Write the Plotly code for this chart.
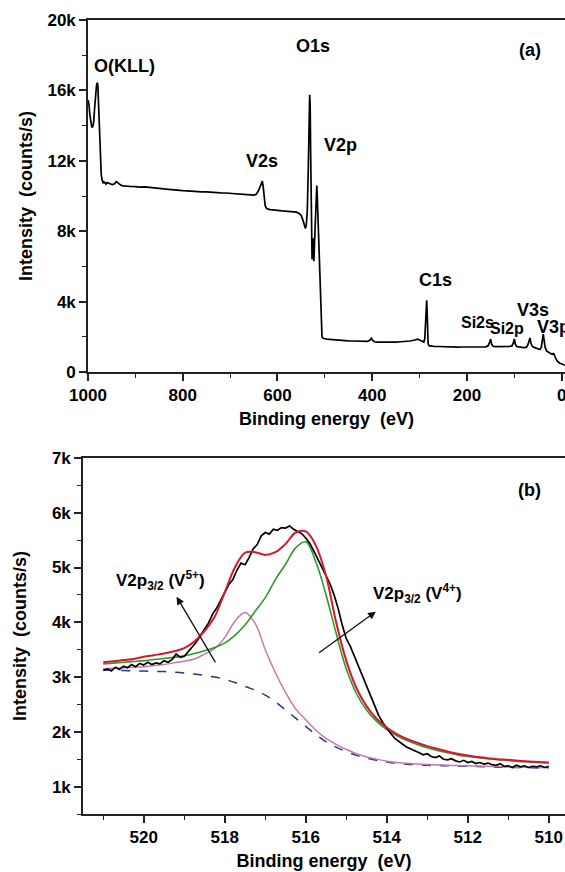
import plotly.graph_objects as go

# ---------------- Panel (a): survey spectrum ----------------
survey_be = [1000, 998, 996, 994, 992, 990, 988, 986, 984, 982, 980, 979, 978, 976, 974, 972, 970, 968, 966, 964,
             962, 960, 956, 952, 948, 944, 940, 937, 934, 930, 925, 920, 910, 900, 890, 880, 870, 860, 850, 840,
             830, 820, 810, 800, 790, 780, 770, 760, 750, 740, 730, 720, 710, 700, 690, 680, 670, 660, 650, 645,
             641, 637, 634, 632, 630, 628, 626, 623, 620, 615, 610, 600, 590, 580, 570, 560, 555, 550, 546, 543,
             541, 539, 537, 535, 533, 532, 531, 530, 529, 528, 527, 526, 525, 524, 523, 522, 520, 518, 517, 516,
             514, 512, 510, 508, 506, 504, 500, 495, 490, 480, 470, 460, 450, 440, 430, 420, 410, 405, 402, 399,
             395, 390, 380, 370, 360, 350, 340, 330, 320, 310, 305, 300, 295, 291, 289, 287, 286, 285, 284, 283,
             282, 280, 275, 270, 260, 250, 240, 230, 220, 210, 200, 190, 180, 170, 160, 155, 152, 150, 148, 145,
             140, 130, 120, 110, 105, 102, 100, 98, 95, 90, 85, 80, 75, 72, 69, 67, 65, 62, 58, 54,
             50, 46, 43, 41, 39, 37, 35, 32, 29, 26, 23, 20, 18, 16, 14, 12, 10, 8, 6, 4,
             2, 0, -3, -7]
survey_cps = [15450, 15200, 14600, 14100, 13900, 13950, 14200, 15000, 15900, 16300, 16450, 16200, 15400, 13800, 12300, 11200, 10900, 10750, 10800, 10700,
              10680, 10760, 10700, 10680, 10650, 10700, 10820, 10750, 10640, 10600, 10580, 10560, 10540, 10530, 10500, 10520, 10480, 10450, 10420, 10400,
              10380, 10340, 10330, 10300, 10290, 10260, 10250, 10240, 10230, 10200, 10210, 10180, 10170, 10150, 10160, 10120, 10100, 10080, 10050, 10100,
              10250, 10500, 10800, 10850, 10500, 9900, 9450, 9300, 9250, 9230, 9200, 9180, 9150, 9130, 9100, 9080, 9020, 8900, 8600, 8300,
              8150, 8400, 9200, 11500, 14500, 15750, 15200, 12500, 9500, 7200, 6400, 6900, 7600, 6600, 6300, 7200, 8800, 10200, 10600, 10000,
              8200, 6500, 4200, 2400, 2000, 1920, 1880, 1860, 1850, 1820, 1800, 1790, 1770, 1760, 1740, 1730, 1740, 1800, 1920, 1800,
              1720, 1700, 1690, 1700, 1680, 1700, 1720, 1730, 1760, 1820, 1870, 1820, 1750, 1700, 1900, 3000, 3800, 4080, 3400, 2200,
              1600, 1500, 1470, 1460, 1450, 1430, 1420, 1420, 1410, 1420, 1410, 1420, 1410, 1420, 1430, 1500, 1700, 1870, 1600, 1460,
              1440, 1430, 1440, 1450, 1480, 1650, 1880, 1600, 1450, 1420, 1400, 1380, 1400, 1500, 1750, 1930, 1650, 1450, 1400, 1360,
              1300, 1280, 1400, 1750, 2150, 1800, 1400, 1200, 1150, 1100, 1050, 1000, 1050, 1020, 850, 700, 650, 580, 520, 500,
              480, 450, 400, 380]

survey_ticks = [1000, 800, 600, 400, 200, 0]
survey_yticks = [0, 4000, 8000, 12000, 16000, 20000]
survey_ytext = ["0", "4k", "8k", "12k", "16k", "20k"]

survey_labels = ["O(KLL)", "O1s", "V2s", "V2p", "C1s", "Si2s", "Si2p", "V3s", "V3p", "(a)"]
survey_label_x = [922, 525, 633, 468, 267, 178, 115, 60, 18, 66]
survey_label_y = [17400, 18500, 12000, 12900, 5230, 2840, 2500, 3520, 2560, 18300]
survey_label_size = [18, 18, 18, 18, 18, 16, 16, 18, 18, 18]

# ---------------- Panel (b): V2p3/2 high resolution ----------------
exp_be = [521.0, 520.9, 520.8, 520.7, 520.6, 520.5, 520.4, 520.3, 520.2, 520.1,
          520.0, 519.9, 519.8, 519.7, 519.6, 519.5, 519.4, 519.3, 519.2, 519.1,
          519.0, 518.9, 518.8, 518.7, 518.6, 518.5, 518.4, 518.3, 518.2, 518.1,
          518.0, 517.9, 517.8, 517.7, 517.6, 517.5, 517.4, 517.3, 517.2, 517.1,
          517.0, 516.9, 516.8, 516.7, 516.6, 516.5, 516.4, 516.3, 516.2, 516.1,
          516.0, 515.9, 515.8, 515.7, 515.6, 515.5, 515.4, 515.3, 515.2, 515.1,
          515.0, 514.9, 514.8, 514.7, 514.6, 514.5, 514.4, 514.3, 514.2, 514.1,
          514.0, 513.9, 513.8, 513.7, 513.6, 513.5, 513.4, 513.3, 513.2, 513.1,
          513.0, 512.9, 512.8, 512.7, 512.6, 512.5, 512.4, 512.3, 512.2, 512.1,
          512.0, 511.9, 511.8, 511.7, 511.6, 511.5, 511.4, 511.3, 511.2, 511.1,
          511.0, 510.9, 510.8, 510.7, 510.6, 510.5, 510.4, 510.3, 510.2, 510.1, 510.0]
exp_cps = [3120, 3150, 3110, 3180, 3140, 3200, 3170, 3230, 3190, 3250,
           3220, 3270, 3230, 3260, 3240, 3300, 3270, 3320, 3420, 3360,
           3380, 3470, 3560, 3640, 3760, 3880, 3990, 4150, 4260, 4400,
           4560, 4690, 4780, 4950, 5080, 5050, 5180, 5340, 5420, 5580,
           5640, 5610, 5700, 5680, 5730, 5720, 5760, 5700, 5660, 5620,
           5540, 5440, 5300, 5150, 4990, 4830, 4700, 4500, 4250, 3950,
           3700, 3560, 3380, 3200, 3000, 2820, 2630, 2450, 2300, 2170,
           2060, 1970, 1880, 1820, 1770, 1720, 1690, 1650, 1620, 1580,
           1600, 1550, 1530, 1560, 1500, 1490, 1510, 1470, 1450, 1480,
           1440, 1460, 1420, 1440, 1410, 1430, 1400, 1390, 1420, 1370,
           1380, 1350, 1390, 1360, 1380, 1350, 1370, 1360, 1380, 1350, 1370]

fit_be = [521.0, 520.75, 520.5, 520.25, 520.0, 519.75, 519.5, 519.25, 519.0, 518.75,
          518.5, 518.25, 518.0, 517.75, 517.5, 517.25, 517.0, 516.75, 516.5, 516.25,
          516.0, 515.75, 515.5, 515.25, 515.0, 514.75, 514.5, 514.25, 514.0, 513.75,
          513.5, 513.25, 513.0, 512.75, 512.5, 512.25, 512.0, 511.75, 511.5, 511.25,
          511.0, 510.75, 510.5, 510.25, 510.0]
envelope_cps = [3270, 3290, 3310, 3330, 3370, 3400, 3430, 3470, 3530, 3650,
                3840, 4100, 4550, 5000, 5270, 5280, 5230, 5280, 5430, 5640,
                5660, 5400, 4850, 4000, 3300, 2800, 2470, 2240, 2080, 1960,
                1870, 1800, 1740, 1690, 1640, 1600, 1570, 1540, 1520, 1500,
                1490, 1470, 1460, 1450, 1440]
v4_cps = [3240, 3255, 3270, 3285, 3300, 3320, 3340, 3360, 3390, 3430,
          3480, 3540, 3620, 3760, 3950, 4200, 4450, 4780, 5060, 5360,
          5470, 5100, 4500, 3800, 3150, 2700, 2400, 2190, 2040, 1930,
          1840, 1770, 1710, 1660, 1620, 1580, 1550, 1530, 1510, 1490,
          1480, 1460, 1450, 1440, 1430]
v5_cps = [3150, 3160, 3170, 3180, 3190, 3210, 3230, 3260, 3290, 3330,
          3420, 3520, 3720, 4020, 4180, 3980, 3500, 3080, 2720, 2420,
          2220, 2030, 1880, 1770, 1680, 1600, 1540, 1500, 1465, 1440,
          1425, 1412, 1402, 1396, 1390, 1385, 1380, 1375, 1370, 1365,
          1360, 1355, 1350, 1348, 1345]
bg_cps = [3130, 3125, 3120, 3115, 3110, 3105, 3100, 3090, 3075, 3055,
          3030, 3000, 2960, 2900, 2830, 2760, 2670, 2550, 2400, 2250,
          2100, 1950, 1820, 1720, 1640, 1570, 1520, 1480, 1450, 1425,
          1410, 1400, 1390, 1385, 1380, 1375, 1370, 1365, 1360, 1355,
          1350, 1348, 1345, 1342, 1340]

hr_xticks = [520, 518, 516, 514, 512, 510]
hr_yticks = [1000, 2000, 3000, 4000, 5000, 6000, 7000]
hr_ytext = ["1k", "2k", "3k", "4k", "5k", "6k", "7k"]

W, H = 565, 872
FONT = "Arial, Liberation Sans, Helvetica, sans-serif"

fig = go.Figure()

fig.add_trace(go.Scatter(x=survey_be, y=survey_cps, mode="lines",
                         line=dict(color="black", width=1.7), xaxis="x", yaxis="y",
                         showlegend=False))

fig.add_trace(go.Scatter(x=fit_be, y=bg_cps, mode="lines", line=dict(color="#1f3a8c", width=1.5, dash="dash"),
                         xaxis="x2", yaxis="y2", showlegend=False, line_shape="spline"))
fig.add_trace(go.Scatter(x=fit_be, y=v5_cps, mode="lines", line=dict(color="#c679a8", width=1.5),
                         xaxis="x2", yaxis="y2", showlegend=False, line_shape="spline"))
fig.add_trace(go.Scatter(x=fit_be, y=v4_cps, mode="lines", line=dict(color="#2a9a2a", width=1.6),
                         xaxis="x2", yaxis="y2", showlegend=False, line_shape="spline"))
fig.add_trace(go.Scatter(x=exp_be, y=exp_cps, mode="lines", line=dict(color="black", width=1.7),
                         xaxis="x2", yaxis="y2", showlegend=False))
fig.add_trace(go.Scatter(x=fit_be, y=envelope_cps, mode="lines", line=dict(color="#d9162c", width=2.0),
                         xaxis="x2", yaxis="y2", showlegend=False, line_shape="spline"))

tickfont = dict(family=FONT, size=17, color="black", weight="bold")
titlefont = dict(family=FONT, size=18, color="black", weight="bold")

axis_common = dict(showgrid=False, zeroline=False, showline=True, linecolor="#222", linewidth=1.6,
                   ticks="outside", ticklen=7, tickwidth=1.5, tickcolor="#222", tickfont=tickfont,
                   automargin=False)

fig.update_layout(
    template="none",
    width=W, height=H, margin=dict(l=0, r=0, t=0, b=0, pad=0),
    paper_bgcolor="white", plot_bgcolor="white",
    xaxis=dict(domain=[88 / W, 1], anchor="y", range=[1000, -7], tickmode="array", tickvals=survey_ticks,
               minor=dict(dtick=100, tick0=0, ticks="outside", ticklen=4, tickwidth=1.3, tickcolor="#222"),
               mirror=True, ticklabeloverflow="allow",
               title=dict(text="Binding energy  (eV)", font=titlefont, standoff=8),
               **axis_common),
    yaxis=dict(domain=[1 - 372 / H, 1 - 20 / H], anchor="x", range=[0, 20000], tickmode="array",
               tickvals=survey_yticks, ticktext=survey_ytext,
               minor=dict(dtick=2000, tick0=0, ticks="outside", ticklen=4, tickwidth=1.3, tickcolor="#222"),
               title=dict(text="Intensity  (counts/s)", font=titlefont, standoff=10),
               **axis_common),
    xaxis2=dict(domain=[83 / W, 1], anchor="y2", range=[521.5, 509.6], tickmode="array", tickvals=hr_xticks,
                minor=dict(dtick=1, tick0=510, ticks="outside", ticklen=4, tickwidth=1.3, tickcolor="#222"),
                mirror=True, title=dict(text="Binding energy  (eV)", font=titlefont, standoff=8),
                **axis_common),
    yaxis2=dict(domain=[1 - 814 / H, 1 - 458 / H], anchor="x2", range=[500, 7000], tickmode="array",
                tickvals=hr_yticks, ticktext=hr_ytext,
                minor=dict(dtick=500, tick0=0, ticks="outside", ticklen=4, tickwidth=1.3, tickcolor="#222"),
                title=dict(text="Intensity  (counts/s)", font=titlefont, standoff=21),
                **axis_common),
)

annotations = []
for txt, lx, ly, sz in zip(survey_labels, survey_label_x, survey_label_y, survey_label_size):
    annotations.append(dict(x=lx, y=ly, xref="x", yref="y", text=txt, showarrow=False,
                            font=dict(family=FONT, size=sz, color="black", weight="bold")))

annotations += [
    dict(x=510.47, y=6410, xref="x2", yref="y2", text="(b)", showarrow=False,
         font=dict(family=FONT, size=18, color="black", weight="bold")),
    dict(x=519.58, y=4770, xref="x2", yref="y2", text="V2p<sub>3/2</sub> (V<sup>5+</sup>)", showarrow=False,
         font=dict(family=FONT, size=17, color="black", weight="bold")),
    dict(x=513.25, y=4535, xref="x2", yref="y2", text="V2p<sub>3/2</sub> (V<sup>4+</sup>)", showarrow=False,
         font=dict(family=FONT, size=17, color="black", weight="bold")),
    dict(x=519.19, y=4468, ax=518.21, ay=3242, xref="x2", yref="y2", axref="x2", ayref="y2",
         text="", showarrow=True, arrowhead=2, arrowsize=1.2, arrowwidth=1.3, arrowcolor="#111"),
    dict(x=514.27, y=4195, ax=515.71, ay=3424, xref="x2", yref="y2", axref="x2", ayref="y2",
         text="", showarrow=True, arrowhead=2, arrowsize=1.2, arrowwidth=1.3, arrowcolor="#111"),
]
fig.update_layout(annotations=annotations)

fig.write_html("out.html")
